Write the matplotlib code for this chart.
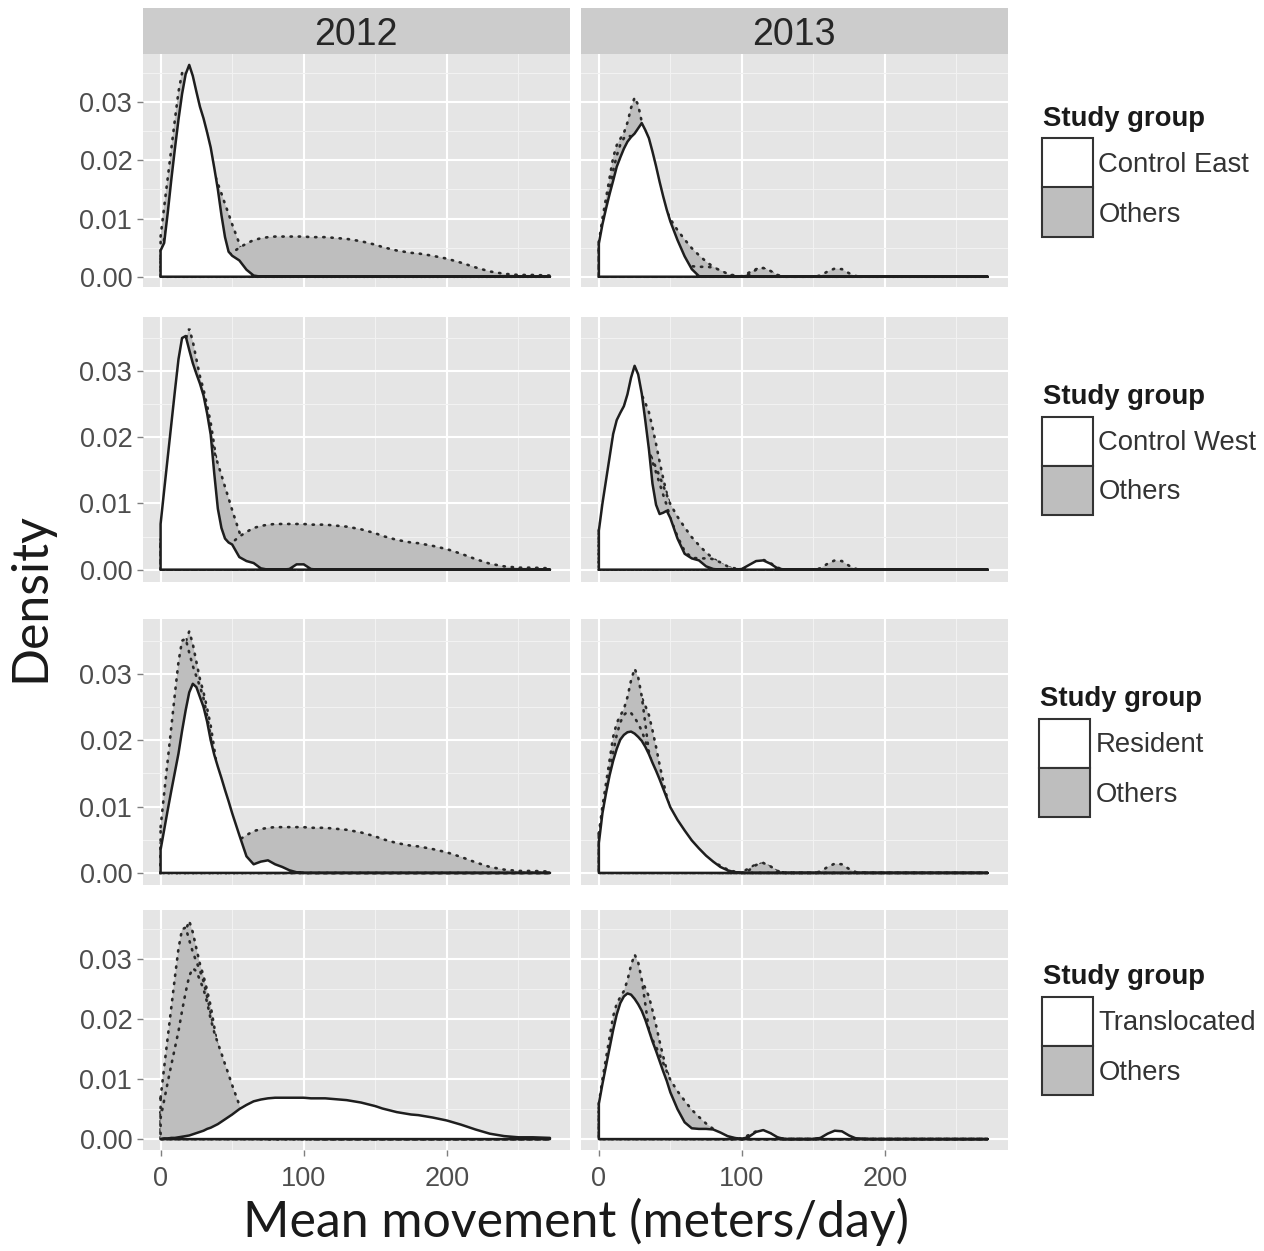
import matplotlib
matplotlib.use("Agg")
import matplotlib.pyplot as plt
from matplotlib.patches import Rectangle

# Valores (densidade por movimento médio, metros/dia)
move = [0, 2.5, 5, 7.5, 10, 12.5, 15, 17.5, 20, 22.5,
        25, 27.5, 30, 32.5, 35, 37.5, 40, 42.5, 45, 47.5,
        50, 55, 60, 65, 70, 75, 80, 85, 90, 95,
        100, 105, 110, 115, 120, 125, 130, 140, 150, 155,
        160, 165, 170, 175, 180, 190, 200, 210, 220, 230,
        240, 250, 260, 272]

groups = ["Control East", "Control West", "Resident", "Translocated"]
years = ["2012", "2013"]

east_2012 = [0.0045, 0.0058, 0.0110, 0.0167, 0.0220, 0.0270, 0.0314, 0.0348, 0.0364, 0.0345,
             0.0318, 0.0292, 0.0272, 0.0248, 0.0222, 0.0187, 0.0150, 0.0106, 0.0068, 0.0043,
             0.0036, 0.0028, 0.0012, 0.0002, 0, 0, 0, 0, 0, 0,
             0, 0, 0, 0, 0, 0, 0, 0, 0, 0,
             0, 0, 0, 0, 0, 0, 0, 0, 0, 0,
             0, 0, 0, 0]
west_2012 = [0.0069, 0.0120, 0.0170, 0.0220, 0.0270, 0.0318, 0.0350, 0.0353, 0.0332, 0.0312,
             0.0296, 0.0281, 0.0263, 0.0236, 0.0204, 0.0145, 0.0092, 0.0063, 0.0047, 0.0041,
             0.0038, 0.0019, 0.0013, 0.0010, 0.0002, 0, 0, 0, 0.0001, 0.0008,
             0.0008, 0.0001, 0, 0, 0, 0, 0, 0, 0, 0,
             0, 0, 0, 0, 0, 0, 0, 0, 0, 0,
             0, 0, 0, 0]
resident_2012 = [0.0035, 0.0065, 0.0095, 0.0124, 0.0152, 0.0180, 0.0214, 0.0245, 0.0272, 0.0285,
                 0.0280, 0.0265, 0.0250, 0.0228, 0.0200, 0.0178, 0.0160, 0.0143, 0.0125, 0.0108,
                 0.0090, 0.0057, 0.0025, 0.0013, 0.0017, 0.0019, 0.0013, 0.0009, 0.0004, 0.0001,
                 0, 0, 0, 0, 0, 0, 0, 0, 0, 0,
                 0, 0, 0, 0, 0, 0, 0, 0, 0, 0,
                 0, 0, 0, 0]
transl_2012 = [0, 0.0001, 0.0001, 0.0002, 0.0002, 0.0003, 0.0004, 0.0005, 0.0006, 0.0008,
               0.0010, 0.0012, 0.0014, 0.0017, 0.0019, 0.0022, 0.0025, 0.0029, 0.0033, 0.0037,
               0.0041, 0.0050, 0.0057, 0.0063, 0.0066, 0.0068, 0.0069, 0.0069, 0.0069, 0.0069,
               0.0069, 0.0068, 0.0068, 0.0068, 0.0067, 0.0066, 0.0065, 0.0061, 0.0055, 0.0051,
               0.0048, 0.0045, 0.0043, 0.0041, 0.0040, 0.0036, 0.0031, 0.0024, 0.0016, 0.0009,
               0.0005, 0.0003, 0.0003, 0.0002]

east_2013 = [0.0057, 0.0090, 0.0117, 0.0142, 0.0165, 0.0189, 0.0205, 0.0220, 0.0232, 0.0240,
             0.0246, 0.0255, 0.0264, 0.0252, 0.0238, 0.0215, 0.0190, 0.0163, 0.0138, 0.0115,
             0.0095, 0.0063, 0.0035, 0.0013, 0.0001, 0, 0, 0, 0, 0,
             0, 0, 0, 0, 0, 0, 0, 0, 0, 0,
             0, 0, 0, 0, 0, 0, 0, 0, 0, 0,
             0, 0, 0, 0]
west_2013 = [0.0059, 0.0100, 0.0135, 0.0170, 0.0205, 0.0226, 0.0237, 0.0247, 0.0265, 0.0290,
             0.0308, 0.0295, 0.0266, 0.0225, 0.0182, 0.0130, 0.0098, 0.0084, 0.0086, 0.0089,
             0.0078, 0.0047, 0.0024, 0.0017, 0.0014, 0.0005, 0.0001, 0, 0, 0,
             0.0001, 0.0007, 0.0013, 0.0014, 0.0009, 0.0002, 0, 0, 0, 0,
             0, 0, 0, 0, 0, 0, 0, 0, 0, 0,
             0, 0, 0, 0]
resident_2013 = [0.0045, 0.0090, 0.0120, 0.0147, 0.0169, 0.0187, 0.0201, 0.0208, 0.0212, 0.0213,
                 0.0210, 0.0205, 0.0199, 0.0190, 0.0179, 0.0166, 0.0154, 0.0141, 0.0127, 0.0113,
                 0.0099, 0.0080, 0.0064, 0.0049, 0.0037, 0.0026, 0.0017, 0.0009, 0.0004, 0.0001,
                 0, 0, 0, 0, 0, 0, 0, 0, 0, 0,
                 0, 0, 0, 0, 0, 0, 0, 0, 0, 0,
                 0, 0, 0, 0]
transl_2013 = [0.0059, 0.0092, 0.0122, 0.0152, 0.0182, 0.0208, 0.0227, 0.0238, 0.0243, 0.0241,
               0.0234, 0.0225, 0.0214, 0.0199, 0.0181, 0.0163, 0.0147, 0.0130, 0.0113, 0.0097,
               0.0078, 0.0050, 0.0028, 0.0018, 0.0017, 0.0017, 0.0016, 0.0011, 0.0005, 0.0002,
               0, 0.0004, 0.0012, 0.0015, 0.0010, 0.0003, 0, 0, 0, 0.0002,
               0.0009, 0.0014, 0.0013, 0.0006, 0.0001, 0, 0, 0, 0, 0,
               0, 0, 0, 0]

density = {
    "2012": [east_2012, west_2012, resident_2012, transl_2012],
    "2013": [east_2013, west_2013, resident_2013, transl_2013],
}

x_ticks = [0, 100, 200]
y_ticks = [0.0, 0.01, 0.02, 0.03]
y_labels = ["0.00", "0.01", "0.02", "0.03"]

W, H = 1264, 1251
fig = plt.figure(figsize=(W / 100, H / 100), dpi=100)
plt.rcParams['font.family'] = ['Liberation Sans', 'DejaVu Sans']


def fx(px):
    return px / W


def fy(py):
    return 1 - py / H


col_x = [(142.7, 570.0), (581.0, 1007.7)]
row_y = [(54.3, 287.3), (316.7, 581.7), (619.3, 885.0), (910.0, 1150.0)]

ymax = max(max(v) for yr in years for v in density[yr])
ylim = (-ymax * 0.05, ymax * 1.05)

line_col = "#1E1E1E"
grey_fill = "#BEBEBE"

for r, focal in enumerate(groups):
    y0, y1 = row_y[r]
    for c, yr in enumerate(years):
        x0, x1 = col_x[c]
        ax = fig.add_axes([fx(x0), fy(y1), (x1 - x0) / W, (y1 - y0) / H])
        ax.set_facecolor("#E5E5E5")
        for s in ax.spines.values():
            s.set_visible(False)
        ax.set_xlim(-12.5, 286)
        ax.set_ylim(*ylim)
        ax.set_xticks(x_ticks)
        ax.set_xticks([50, 150, 250], minor=True)
        ax.set_yticks(y_ticks)
        ax.set_yticks([0.005, 0.015, 0.025, 0.035], minor=True)
        ax.set_yticklabels(y_labels)
        ax.grid(which="major", color="white", lw=1.5)
        ax.grid(which="minor", color="#F2F2F2", lw=0.8)
        ax.set_axisbelow(True)
        ax.tick_params(which="minor", length=0)
        ax.tick_params(which="major", color="#7F7F7F", length=4.5, width=1.0,
                       labelsize=19.5, labelcolor="#4D4D4D")
        ax.tick_params(axis="y", pad=3)
        ax.tick_params(axis="x", pad=7)
        if c > 0:
            ax.tick_params(axis="y", left=False, labelleft=False)
        if r < len(groups) - 1:
            ax.tick_params(axis="x", bottom=False, labelbottom=False)

        # primeiro os "outros" (cinza, pontilhado), depois o grupo em destaque
        order = [g for g in groups if g != focal] + [focal]
        for g in order:
            vals = density[yr][groups.index(g)]
            xs = move + [move[-1], move[0]]
            ys = vals + [0, 0]
            if g == focal:
                ax.fill(xs, ys, facecolor="white", edgecolor=line_col, lw=1.8,
                        linestyle="-", joinstyle="round", zorder=3)
            else:
                ax.fill(xs, ys, facecolor=grey_fill, edgecolor="#2A2A2A", lw=1.9,
                        linestyle=(0, (0.5, 2.6)), capstyle="round", zorder=2)

# faixas dos anos
for c, yr in enumerate(years):
    x0, x1 = col_x[c]
    sax = fig.add_axes([fx(x0), fy(54.3), (x1 - x0) / W, (54.3 - 8.3) / H])
    sax.set_facecolor("#CCCCCC")
    sax.set_xticks([])
    sax.set_yticks([])
    for s in sax.spines.values():
        s.set_visible(False)
    sax.text(0.5, 0.42, yr, ha="center", va="center", fontsize=27,
             color="#262626", transform=sax.transAxes)

# legendas
leg_x = [1042, 1042, 1039, 1042]
leg_top = [138.5, 416.5, 718.5, 996.5]
kw, kh = 50.5, 49
for r, focal in enumerate(groups):
    lx, lt = leg_x[r], leg_top[r]
    fig.text(fx(lx + 1), fy(lt - 19), "Study group", fontsize=19.8,
             fontweight="bold", color="#1A1A1A", ha="left", va="center")
    for k, (lab, fc) in enumerate([(focal, "white"), ("Others", grey_fill)]):
        top = lt + k * kh
        fig.add_artist(Rectangle((fx(lx), fy(top + kh)), kw / W, kh / H,
                                 transform=fig.transFigure, facecolor=fc,
                                 edgecolor="#333333", lw=1.5))
        fig.text(fx(lx + kw + 6), fy(top + kh / 2 + 2.5), lab, fontsize=19.8,
                 color="#333333", ha="left", va="center")

fig.text(fx(576), fy(1222), "Mean movement (meters/day)", fontsize=36,
         family="Lato", color="#1A1A1A", ha="center", va="center")
fig.text(fx(30), fy(597), "Density", fontsize=36, family="Lato",
         color="#1A1A1A", ha="center", va="center", rotation=90)

fig.savefig("out.png", dpi=100, facecolor="white")
